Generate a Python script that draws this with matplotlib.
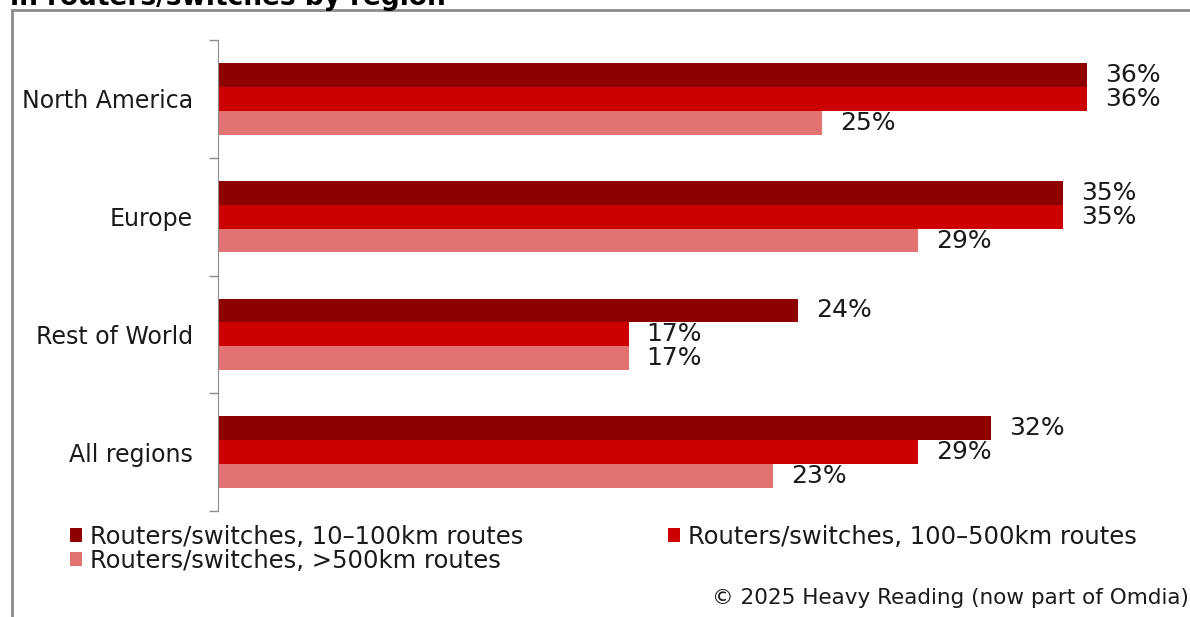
import matplotlib.pyplot as plt
from matplotlib.lines import Line2D
import numpy as np

# survey shares per region
regions = ["North America", "Europe", "Rest of World", "All regions"]
series_names = [
    "Routers/switches, 10\u2013100km routes",
    "Routers/switches, 100\u2013500km routes",
    "Routers/switches, >500km routes",
]
short_routes = [36, 35, 24, 32]
mid_routes = [36, 35, 17, 29]
long_routes = [25, 29, 17, 23]
colors = ["#8F0000", "#CC0000", "#E37272"]

W, H = 1190, 617
fig = plt.figure(figsize=(W / 100, H / 100), dpi=100)
ax = fig.add_axes([218 / W, 1 - 511 / H, 966 / W, 471 / H])

y = np.arange(len(regions))
bh = 0.203
for k, (vals, name, col) in enumerate(zip([short_routes, mid_routes, long_routes], series_names, colors)):
    bars = ax.barh(y + (k - 1) * bh, vals, height=bh, color=col, label=name,
                   edgecolor="none")
    ax.bar_label(bars, labels=[f"{v}%" for v in vals], padding=13,
                 fontsize=18, color="#1a1a1a")

ax.set_xlim(0, 40)
ax.set_ylim(3.5, -0.5)
ax.set_xticks([])
ax.set_yticks(np.arange(-0.5, 4, 1))
ax.set_yticklabels([])
ax.set_yticks(y, minor=True)
ax.set_yticklabels(regions, minor=True, fontsize=17, color="#1a1a1a")
ax.tick_params(axis="y", which="major", length=6.5, color="#8c8c8c", width=1)
ax.tick_params(axis="y", which="minor", length=0, pad=18)
for s in ["top", "right", "bottom"]:
    ax.spines[s].set_visible(False)
ax.spines["left"].set_color("#8c8c8c")

# legend: two columns, third entry wraps under the first
handles, labels = ax.get_legend_handles_labels()
order = [0, 2, 1]
fig.legend([handles[i] for i in order], [labels[i] for i in order],
           loc="upper left", bbox_to_anchor=(48 / W, 1 - 503 / H), ncol=2,
           frameon=False, fontsize=17.5, handlelength=0.5, handleheight=0.5,
           handletextpad=0.33, columnspacing=5.95, labelspacing=0.0,
           labelcolor="#1a1a1a")

fig.text(1 - 1 / W, 1 - 598 / H, "\u00a9 2025 Heavy Reading (now part of Omdia)",
         ha="right", va="center", fontsize=15.5, color="#1a1a1a")

# cut-off heading and outer frame
fig.text(10 / W, 1 - 5 / H, "in routers/switches by region", ha="left",
         va="baseline", fontsize=19, fontweight="bold")
fig.add_artist(Line2D([12 / W, 12 / W], [0, 1 - 10 / H], color="#8c8c8c", lw=2,
                      transform=fig.transFigure))
fig.add_artist(Line2D([12 / W, 1], [1 - 10 / H, 1 - 10 / H], color="#8c8c8c", lw=2,
                      transform=fig.transFigure))

fig.savefig("out.png", dpi=100)
